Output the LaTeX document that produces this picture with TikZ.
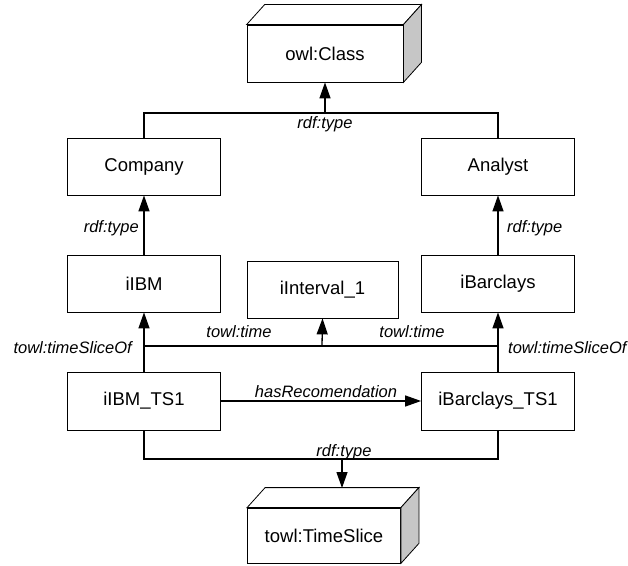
\documentclass[tikz,border=0pt]{standalone}
\usepackage{fontspec}
\setmainfont{Liberation Sans}
\usetikzlibrary{arrows.meta}

\begin{document}
\begin{tikzpicture}[x=1bp, y=-1bp, font=\fontsize{18.5bp}{22bp}\selectfont,
			box/.style={draw, line width=0.8bp, fill=white, minimum width=153bp, minimum height=57bp, inner sep=0pt},
			lbl/.style={font=\fontsize{16.5bp}{20bp}\selectfont\itshape, inner sep=0pt},
			link/.style={line width=1.3bp},
			arr/.style={link, -{Triangle[length=16bp,width=11bp]}}]
			\useasboundingbox (0,0) rectangle (628,566);
			% the classes
			\node[box, minimum width=156bp] (owl) at (325,53.5) {owl:Class};
			\node[box] (company) at (144,166.5) {Company};
			\node[box] (analyst) at (498,166.5) {Analyst};
			% the individuals
			\node[box] (ibm) at (144,283.5) {iIBM};
			\node[box, minimum width=151bp] (intv) at (322.5,289.5) {iInterval\_1};
			\node[box] (barc) at (498,283.5) {iBarclays};
			\node[box, minimum height=58bp] (ibmts) at (144,401) {iIBM\_TS1};
			\node[box, minimum height=58bp] (barcts) at (498,401) {iBarclays\_TS1};
			\node[box, minimum height=55bp] (tslice) at (324,535.5) {towl:TimeSlice};
			% the two cubes
			\foreach \n in {owl,tslice} {
				\draw[line width=0.8bp, fill=white] (\n.north west) -- ++(18,-20) -- ([shift={(18,-20)}]\n.north east) -- (\n.north east) -- cycle;
				\draw[line width=0.8bp, fill=gray!45] (\n.north east) -- ++(18,-20) -- ([shift={(18,-20)}]\n.south east) -- (\n.south east) -- cycle;
			}
			% joints
			\coordinate (j1) at (325,113);
			\coordinate (j2) at (322,346);
			\coordinate (j3) at (342,459);
			\coordinate (top) at (342,488);
			% connectors
			\draw[link] (company.north) |- (j1) -| (analyst.north);
			\draw[arr] (j1) -- (owl.south);
			\draw[arr] (ibm.north) -- (company.south);
			\draw[arr] (barc.north) -- (analyst.south);
			\draw[arr] (ibmts.north) -- (ibm.south);
			\draw[arr] (barcts.north) -- (barc.south);
			\draw[link] (ibmts.north |- j2) -- (barcts.north |- j2);
			\draw[arr] (j2) -- (intv.south);
			\draw[arr] (ibmts.east) -- (barcts.west);
			\draw[link] (ibmts.south) |- (j3) -| (barcts.south);
			\draw[arr] (j3) -- (top);
			% labels
			\node[lbl] (l1) at (325,124) {rdf:type};
			\node[lbl, anchor=east] (l2) at (139,228) {rdf:type};
			\node[lbl, anchor=west] (l3) at (507,228) {rdf:type};
			\node[lbl, anchor=east] (l4) at (132,348) {towl:timeSliceOf};
			\node[lbl, anchor=west] (l5) at (508,348) {towl:timeSliceOf};
			\node[lbl] (l6) at (239,332) {towl:time};
			\node[lbl] (l7) at (412,332) {towl:time};
			\node[lbl] (l8) at (326,392) {hasRecomendation};
			\node[lbl] (l9) at (344,452) {rdf:type};
\end{tikzpicture}
\end{document}
